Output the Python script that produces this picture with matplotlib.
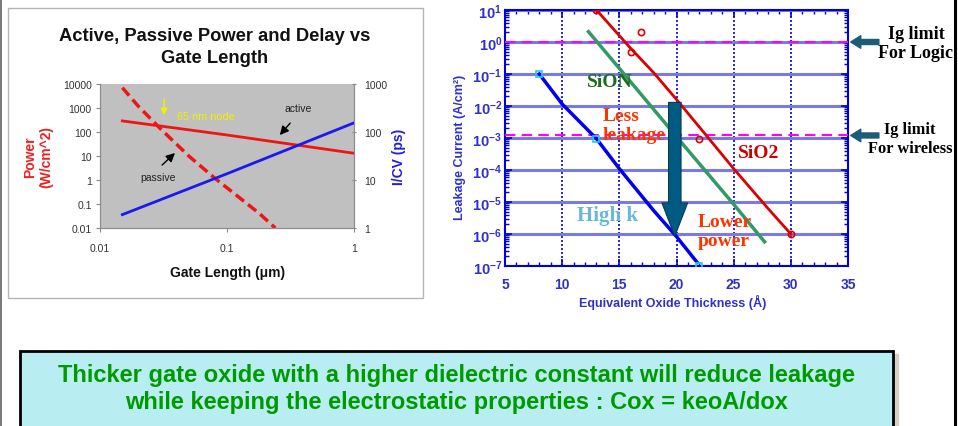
import matplotlib
matplotlib.use('Agg')
import matplotlib.pyplot as plt
from matplotlib.patches import Rectangle
from matplotlib.lines import Line2D
from matplotlib.ticker import FixedLocator, FixedFormatter, MultipleLocator, LogLocator, NullLocator

plt.rcParams['font.family'] = ['Liberation Sans', 'DejaVu Sans']
plt.rcParams['mathtext.fontset'] = 'custom'
plt.rcParams['mathtext.rm'] = 'Liberation Sans'
plt.rcParams['mathtext.bf'] = 'Liberation Sans:bold'

# ---- left chart: power / delay vs gate length ----
active_len = [0.015, 0.1, 1.0]
active_power = [290, 75, 13]
passive_len = [0.015, 0.02, 0.03, 0.05, 0.08, 0.12, 0.18, 0.24]
passive_power = [7000, 1200, 135, 10, 1.2, 0.22, 0.04, 0.01]
delay_len = [0.015, 0.1, 1.0]
delay_icv = [1.9, 13.5, 155]

len_ticks = [0.01, 0.1, 1]
len_labels = ['0.01', '0.1', '1']
power_ticks = [0.01, 0.1, 1, 10, 100, 1000, 10000]
power_labels = ['0.01', '0.1', '1', '10', '100', '1000', '10000']
icv_ticks = [1, 10, 100, 1000]
icv_labels = ['1', '10', '100', '1000']

# ---- right chart: leakage vs EOT ----
sio2_eot = [13, 16, 18, 20, 22, 25, 28, 30]
sio2_leak = [10, 0.63, 0.11, 0.016, 2.2e-3, 1.1e-4, 6.3e-6, 1.0e-6]
sio2_pts_eot = [13, 16.9, 16, 22, 30]
sio2_pts_leak = [10, 2.1, 0.5, 9.3e-4, 1.0e-6]
sion_eot = [12.3, 15, 20, 25, 27.7]
sion_leak = [2.1, 0.15, 1.1e-3, 8.5e-6, 5.7e-7]
highk_eot = [8, 10, 13, 15, 18, 20, 21.8]
highk_leak = [0.1, 1.15e-2, 9.5e-4, 1.1e-4, 5.4e-6, 8.3e-7, 1.3e-7]
highk_pts_eot = [8, 13, 22]
highk_pts_leak = [0.1, 9.5e-4, 1.0e-7]
ig_limits = [1.0, 1.2e-3]

eot_ticks = [5, 10, 15, 20, 25, 30, 35]
leak_ticks = [1e-7, 1e-6, 1e-5, 1e-4, 1e-3, 1e-2, 1e-1, 1e0, 1e1]
leak_labels = [r'$\mathbf{10^{-7}}$', r'$\mathbf{10^{-6}}$', r'$\mathbf{10^{-5}}$',
               r'$\mathbf{10^{-4}}$', r'$\mathbf{10^{-3}}$', r'$\mathbf{10^{-2}}$',
               r'$\mathbf{10^{-1}}$', r'$\mathbf{10^{0}}$', r'$\mathbf{10^{1}}$']

W, H = 958, 427
fig = plt.figure(figsize=(W / 100, H / 100), dpi=100)
fig.patch.set_facecolor('white')

def fx(px):
    return px / W

def fy(py):
    return 1 - py / H

# slide edges
fig.add_artist(Line2D([fx(1), fx(1)], [0, 1], color='#606060', lw=1.2))
fig.add_artist(Rectangle((fx(955), 0), fx(3), 1, color='white', zorder=20))
fig.add_artist(Line2D([fx(955), fx(955)], [0, 1], color='black', lw=2.2, zorder=21))

# left chart frame
fig.add_artist(Rectangle((fx(8), fy(299)), fx(415), 290 / H, fill=False, ec='#b4b4b4', lw=1))

ax1 = fig.add_axes([fx(100), fy(229), fx(254), 144 / H])
ax1.set_facecolor('#c0c0c0')
ax1.set_xscale('log')
ax1.set_yscale('log')
ax1.set_xlim(0.01, 1)
ax1.set_ylim(0.01, 10000)
ax1.plot(active_len, active_power, color='#ee1515', lw=2)
ax1.plot(passive_len, passive_power, color='#ee1515', lw=2.5, dashes=(3, 1.5))
ax1.xaxis.set_major_locator(FixedLocator(len_ticks))
ax1.xaxis.set_major_formatter(FixedFormatter(len_labels))
ax1.yaxis.set_major_locator(FixedLocator(power_ticks))
ax1.yaxis.set_major_formatter(FixedFormatter(power_labels))
ax1.xaxis.set_minor_locator(NullLocator())
ax1.yaxis.set_minor_locator(NullLocator())
ax1.tick_params(labelsize=7.5, labelcolor='#333333', color='#888888', length=3, pad=3)
ax1.tick_params(axis='x', pad=8)
for s in ['left', 'bottom', 'right']:
    ax1.spines[s].set_color('#8c8c8c')
ax1.spines['top'].set_visible(False)

ax1b = ax1.twinx()
ax1b.set_yscale('log')
ax1b.set_ylim(1, 1000)
ax1b.plot(delay_len, delay_icv, color='#1a1aee', lw=2)
ax1b.yaxis.set_major_locator(FixedLocator(icv_ticks))
ax1b.yaxis.set_major_formatter(FixedFormatter(icv_labels))
ax1b.yaxis.set_minor_locator(NullLocator())
ax1b.tick_params(labelsize=7.5, labelcolor='#333333', color='#888888', length=3,
                 direction='inout', pad=6)
for s in ['left', 'bottom', 'right']:
    ax1b.spines[s].set_color('#8c8c8c')
ax1b.spines['top'].set_visible(False)

# annotations on left chart
ax1.annotate('', xy=(0.032, 380), xytext=(0.032, 3200),
             arrowprops=dict(arrowstyle='-|>', color='#f0f000', lw=1, mutation_scale=10))
ax1.text(0.0404, 465, '65 nm node', color='#f0f000', fontsize=7.8, va='center', ha='left')
ax1.annotate('', xy=(0.252, 61), xytext=(0.325, 288),
             arrowprops=dict(arrowstyle='-|>', color='black', lw=1, mutation_scale=13))
ax1.text(0.362, 1000, 'active', fontsize=7.5, color='#222222', ha='center', va='center')
ax1.annotate('', xy=(0.0404, 16), xytext=(0.0297, 3.5),
             arrowprops=dict(arrowstyle='-|>', color='black', lw=1, mutation_scale=13))
ax1.text(0.0286, 1.33, 'passive', fontsize=7.5, color='#222222', ha='center', va='center')

fig.text(fx(215), fy(47.5), 'Active, Passive Power and Delay vs\nGate Length', ha='center',
         va='center', fontsize=13.2, fontweight='bold', color='#111111', linespacing=1.4)
fig.text(fx(228), fy(273), 'Gate Length (\u03bcm)', ha='center', va='center', fontsize=10,
         fontweight='bold', color='#111111')
fig.text(fx(38), fy(157), 'Power\n(W/cm^2)', ha='center', va='center', rotation=90,
         fontsize=10, fontweight='bold', color='#ee2020', linespacing=1.2)
fig.text(fx(399), fy(157), 'I/CV (ps)', ha='center', va='center', rotation=90,
         fontsize=10, fontweight='bold', color='#2020dd')

# ---- right chart ----
blue = '#3030cc'
ax2 = fig.add_axes([fx(505), fy(267), fx(343), 256 / H])
ax2.set_yscale('log')
ax2.set_xlim(5, 35)
ax2.set_ylim(1e-7, 10)
ax2.xaxis.set_major_locator(FixedLocator(eot_ticks))
ax2.xaxis.set_minor_locator(MultipleLocator(1))
ax2.yaxis.set_major_locator(FixedLocator(leak_ticks))
ax2.yaxis.set_major_formatter(FixedFormatter(leak_labels))
ax2.yaxis.set_minor_locator(LogLocator(base=10, subs=range(2, 10), numticks=20))
ax2.grid(axis='y', which='major', color='#7a7ae0', lw=2.2)
ax2.grid(axis='x', which='major', color='#0000ee', lw=1.2, ls=(0, (1.2, 1.2)))
ax2.tick_params(which='both', direction='in', top=True, right=True, color='#0000dd')
ax2.tick_params(which='major', length=5, width=1.2)
ax2.tick_params(which='minor', length=3, width=1)
ax2.tick_params(axis='x', labelsize=10, labelcolor=blue, pad=8)
ax2.tick_params(axis='y', labelsize=10.5, labelcolor=blue, pad=2)
for lab in ax2.get_xticklabels():
    lab.set_fontweight('bold')
for s in ax2.spines.values():
    s.set_color('#0000dd')
    s.set_linewidth(1.5)

for lim in ig_limits:
    ax2.axhline(lim, color='#ff00ff', lw=1.5, dashes=(5, 3), zorder=3)

ax2.plot(sio2_eot, sio2_leak, color='#dd0000', lw=2, zorder=4)
ax2.plot(sio2_pts_eot, sio2_pts_leak, 'o', mfc='none', mec='#dd0000', ms=4.5, mew=1.2, zorder=5)
ax2.plot(sion_eot, sion_leak, color='#339966', lw=2.5, zorder=4)
ax2.plot(highk_eot, highk_leak, color='#0000ee', lw=2.5, zorder=4)
ax2.plot(highk_pts_eot, highk_pts_leak, 's', mfc='none', mec='#22ccee', ms=4.5, mew=1.2, zorder=5)

ax2.annotate('', xy=(19.85, 8.5e-7), xytext=(19.85, 1.3e-2), zorder=6,
             arrowprops=dict(arrowstyle='simple,head_length=2.4,head_width=1.85,tail_width=0.9',
                             mutation_scale=10, fc='#005b82', ec='#0a3a55', lw=0.8,
                             shrinkA=0, shrinkB=0))

serif = ['Liberation Serif', 'DejaVu Serif']
ax2.text(14.2, 0.06, 'SiON', family=serif, fontsize=14, fontweight='bold', color='#1e6b1e',
         ha='center', va='center', zorder=7)
ax2.text(13.5, 2.6e-3, 'Less\nleakage', family=serif, fontsize=14, fontweight='bold',
         color='#ff3300', ha='left', va='center', linespacing=1.15, zorder=7)
ax2.text(27.2, 3.5e-4, 'SiO2', family=serif, fontsize=14, fontweight='bold', color='#cc0000',
         ha='center', va='center', zorder=7)
ax2.text(14.0, 4e-6, 'High k', family=serif, fontsize=15, fontweight='bold', color='#6ab8d8',
         ha='center', va='center', zorder=7)
ax2.text(21.85, 1.26e-6, 'Lower\npower', family=serif, fontsize=14, fontweight='bold',
         color='#ff3300', ha='left', va='center', linespacing=1.15, zorder=7)

ax2.set_ylabel('Leakage Current (A/cm\u00b2)', fontsize=9, fontweight='bold', color=blue)
ax2.yaxis.set_label_coords(-0.115, 0.467)
ax2.set_xlabel('Equivalent Oxide Thickness (\u00c5)', fontsize=9, fontweight='bold', color=blue)
ax2.xaxis.set_label_coords(0.49, -0.11)

for lim in ig_limits:
    ax2.annotate('', xy=(1.008, lim), xycoords=('axes fraction', 'data'),
                 xytext=(1.09, lim), textcoords=('axes fraction', 'data'),
                 annotation_clip=False,
                 arrowprops=dict(arrowstyle='simple,head_length=0.6,head_width=0.75,tail_width=0.3',
                                 mutation_scale=12, fc='#1d5b78', ec='#1d5b78', shrinkA=0, shrinkB=0))
fig.text(fx(916), fy(44), 'Ig limit\nFor Logic', family=serif, fontsize=13, fontweight='bold',
         ha='center', va='center', linespacing=1.2)
fig.text(fx(910), fy(139.5), 'Ig limit\nFor wireless', family=serif, fontsize=11.8,
         fontweight='bold', ha='center', va='center', linespacing=1.3)

# ---- bottom note box ----
fig.add_artist(Rectangle((fx(25), 0), fx(873), fy(355), color='#d6cfc6', zorder=1))
fig.add_artist(Rectangle((fx(20), -0.05), fx(873), fy(352) + 0.05, fc='#b8eef2', ec='black',
                         lw=2, zorder=2))
fig.text(fx(456.5), fy(389), 'Thicker gate oxide with a higher dielectric constant will reduce leakage\n'
         'while keeping the electrostatic properties : Cox = keoA/dox', ha='center', va='center',
         fontsize=17, fontweight='bold', color='#009a00', linespacing=1.2, zorder=3)

fig.savefig('out.png', dpi=100)
